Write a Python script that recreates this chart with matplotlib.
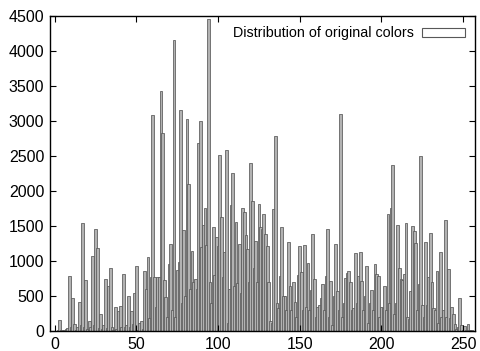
import numpy as np
import matplotlib
matplotlib.use("Agg")
import matplotlib.pyplot as plt
from matplotlib.patches import Patch

plt.rcParams['font.family'] = ['Liberation Sans', 'DejaVu Sans']

# color index 0..255 and how often each one occurs
counts = [
    0, 0, 10, 155, 20, 0, 10, 30, 40, 780, 60, 465, 100, 20, 50, 410,
    90, 1550, 60, 735, 30, 145, 60, 1070, 90, 1460, 1185, 40, 250, 30, 80, 745,
    40, 640, 895, 50, 20, 350, 30, 280, 360, 60, 815, 50, 80, 505, 60, 290,
    100, 550, 935, 20, 120, 145, 30, 860, 600, 1055, 180, 765, 3090, 765, 350, 765,
    765, 3435, 2830, 735, 480, 200, 960, 1245, 300, 4155, 200, 865, 980, 3155, 400, 1450,
    500, 3035, 2095, 600, 1150, 695, 740, 600, 2685, 2995, 1200, 1510, 1760, 1230, 4460, 700,
    405, 1485, 800, 1340, 1220, 2515, 1630, 765, 1135, 2590, 120, 600, 1805, 2255, 640, 1560,
    680, 1250, 550, 1760, 1695, 1365, 1175, 700, 2400, 1855, 900, 1280, 700, 1820, 1480, 1460,
    1670, 1390, 1220, 695, 140, 120, 1740, 2780, 400, 330, 790, 1485, 500, 500, 300, 1270,
    640, 300, 695, 415, 200, 800, 1210, 840, 300, 1230, 345, 970, 300, 585, 1390, 740,
    200, 345, 370, 475, 665, 300, 790, 1460, 200, 720, 90, 500, 1245, 575, 300, 3100,
    200, 400, 755, 835, 860, 700, 300, 330, 1110, 400, 790, 1125, 720, 300, 500, 925,
    120, 405, 590, 300, 955, 815, 790, 200, 345, 335, 640, 300, 1665, 400, 1760, 2375,
    250, 400, 1510, 900, 740, 735, 815, 1550, 200, 175, 575, 1495, 1425, 1260, 300, 665,
    2495, 370, 200, 1270, 370, 765, 1405, 695, 330, 300, 860, 120, 1125, 200, 300, 1590,
    200, 880, 185, 340, 240, 100, 30, 50, 470, 90, 20, 70, 10, 100, 20, 10,
]
colors = np.arange(len(counts))

xticks = [0, 50, 100, 150, 200, 250]
yticks = list(range(0, 4501, 500))

fig = plt.figure(figsize=(4.8, 3.51), dpi=100)
ax = fig.add_axes([0.104, 0.057, 0.886, 0.897])

ax.bar(colors, counts, width=1.7, facecolor='#b2b2b2', edgecolor='#585858',
       linewidth=0.55, align='center')

ax.set_xlim(-3, 257.4)
ax.set_ylim(0, 4500)
ax.set_xticks(xticks)
ax.set_yticks(yticks)
ax.tick_params(direction='in', length=4, width=0.8, top=True, right=True,
               labelsize=11.5, pad=4, colors='black')
for s in ax.spines.values():
    s.set_linewidth(1.0)
    s.set_color('black')

key = Patch(facecolor='white', edgecolor='#585858', linewidth=0.8)
ax.legend([key], ['Distribution of original colors'], loc='upper right',
          frameon=False, fontsize=10.3, handlelength=3.0, handleheight=0.6,
          markerfirst=False, borderaxespad=0.3, handletextpad=0.6)

fig.savefig('out.png', dpi=100)
